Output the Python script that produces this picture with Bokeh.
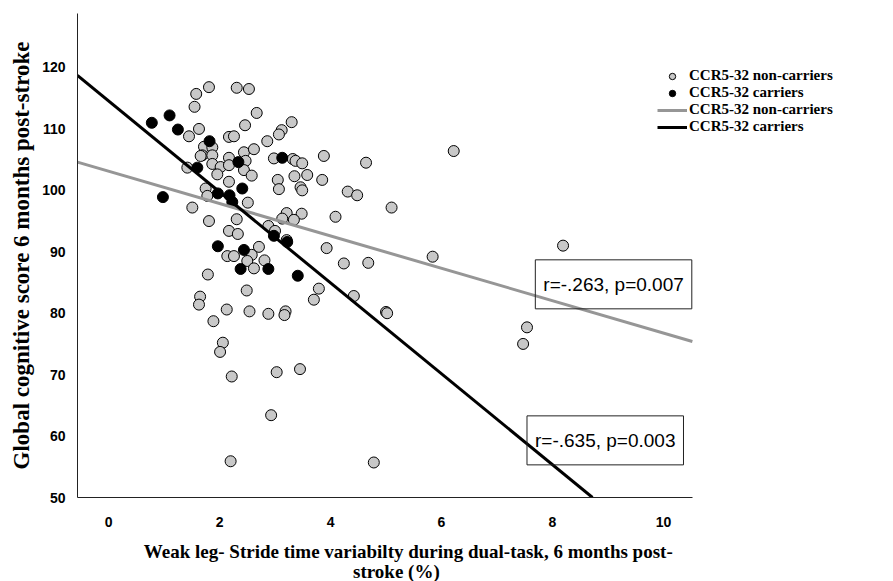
from bokeh.plotting import figure
from bokeh.models import Range1d, FixedTicker, Legend, LegendItem, Label
from bokeh.layouts import column
from bokeh.embed import file_html
from bokeh.resources import INLINE

# CCR5-32 non-carriers (stride time variability %, global cognitive score)
noncarrier_x = [1.81, 2.31, 2.53, 1.58, 1.55, 1.63, 1.45, 2.46, 2.17, 2.26,
                1.72, 1.87, 1.69, 1.66, 1.87, 2.17, 2.44, 1.87, 2.02, 2.17,
                2.47, 2.44, 1.42, 1.96, 2.17, 1.75, 2.67, 3.30, 3.12, 3.07,
                2.86, 2.62, 2.98, 3.32, 3.37, 3.49, 3.88, 2.58, 3.05, 3.35,
                3.58, 3.85, 3.07, 3.46, 3.49, 4.31, 4.48, 2.51, 3.21, 3.48,
                3.13, 3.34, 4.09, 2.88, 3.00, 3.21, 3.93, 4.24, 2.71, 2.58,
                2.50, 2.81, 2.62, 2.49, 3.79, 4.42, 3.70, 4.64, 5.10, 4.68,
                5.84, 5.00, 5.02, 6.22, 8.19, 7.54, 7.47, 1.78, 1.51, 1.81,
                2.31, 2.17, 2.33, 2.14, 2.26, 1.79, 1.65, 1.63, 2.13, 1.89,
                2.54, 2.88, 3.19, 3.17, 2.06, 2.01, 2.22, 3.03, 3.45, 2.93,
                2.20, 4.78]
noncarrier_y = [116.8, 116.7, 116.5, 115.7, 113.6, 110.0, 108.8, 110.6, 108.7, 108.8,
                107.1, 107.0, 105.7, 105.6, 105.7, 105.3, 106.2, 104.3, 103.8, 104.1,
                104.8, 103.3, 103.7, 102.6, 101.4, 100.3, 112.6, 111.1, 109.8, 109.1,
                108.0, 106.7, 105.2, 105.1, 104.8, 104.4, 105.6, 102.4, 101.7, 102.3,
                102.5, 101.7, 100.2, 100.5, 100.0, 99.8, 99.2, 98.0, 96.3, 96.2,
                95.4, 95.2, 95.7, 94.2, 93.4, 91.9, 90.6, 88.1, 90.8, 89.5,
                88.5, 88.6, 87.3, 83.7, 84.0, 82.8, 82.2, 104.5, 97.2, 88.2,
                89.2, 80.2, 80.0, 106.4, 91.0, 77.7, 75.0, 99.1, 97.2, 95.0,
                95.3, 93.4, 92.9, 89.3, 89.3, 86.3, 82.7, 81.4, 80.6, 78.7,
                80.3, 79.9, 80.3, 79.7, 75.2, 73.7, 69.7, 70.4, 70.9, 63.4,
                55.9, 55.7]

# CCR5-32 carriers
carrier_x = [1.10, 0.78, 1.25, 1.82, 2.34, 1.60, 2.41, 3.13, 0.98, 1.97,
             2.18, 2.23, 1.97, 2.44, 2.38, 2.98, 3.22, 2.88, 3.41]
carrier_y = [112.2, 111.0, 109.9, 108.0, 104.6, 103.7, 100.3, 105.3, 98.9, 99.5,
             99.2, 98.1, 90.9, 90.3, 87.2, 92.6, 91.6, 87.2, 86.1]

# Linear fit lines (end points as drawn)
fit_noncarrier_x = [-0.56, 10.52]
fit_noncarrier_y = [104.6, 75.4]
fit_carrier_x = [-0.56, 8.72]
fit_carrier_y = [118.7, 50.0]

x_ticks = [0, 2, 4, 6, 8, 10]
y_ticks = [50, 60, 70, 80, 90, 100, 110, 120]

stat_noncarrier = "r=-.263, p=0.007"
stat_carrier = "r=-.635, p=0.003"
x_title = ["Weak leg- Stride time variabilty during dual-task, 6 months post-", "stroke (%)"]
y_title = "Global cognitive score 6 months post-stroke"
legend_labels = ["CCR5-32 non-carriers", "CCR5-32 carriers", "CCR5-32 non-carriers", "CCR5-32 carriers"]

p = figure(width=893, height=529, output_backend="svg", toolbar_location=None,
           x_range=Range1d(-0.559, 14.144), y_range=Range1d(50, 128.79),
           min_border_left=77, min_border_right=0, min_border_top=13,
           min_border_bottom=32)
p.outline_line_color = None
p.xgrid.visible = False
p.ygrid.visible = False
p.background_fill_color = "white"

r_g = p.scatter(noncarrier_x, noncarrier_y, size=11, marker="circle",
                fill_color="#c8c8c8", line_color="#000000", line_width=1)
r_b = p.scatter(carrier_x, carrier_y, size=11, marker="circle",
                fill_color="#000000", line_color="#000000", line_width=1)
l_g = p.line(fit_noncarrier_x, fit_noncarrier_y, line_color="#969696", line_width=3)
l_b = p.line(fit_carrier_x, fit_carrier_y, line_color="#000000", line_width=3)

for ax in (p.xaxis[0], p.yaxis[0]):
    ax.major_tick_line_color = None
    ax.minor_tick_line_color = None
    ax.axis_line_color = "#222222"
    ax.axis_line_width = 1
    ax.major_label_text_font = "Liberation Sans"
    ax.major_label_text_font_style = "bold"
    ax.major_label_text_font_size = "14px"
    ax.major_label_text_color = "#000000"
    ax.axis_label_text_font = "Liberation Serif"
    ax.axis_label_text_font_style = "bold"
    ax.axis_label_text_color = "#000000"

p.xaxis.ticker = FixedTicker(ticks=x_ticks)
p.yaxis.ticker = FixedTicker(ticks=y_ticks)
p.xaxis.bounds = (fit_noncarrier_x[0], fit_noncarrier_x[1])
p.xaxis.major_label_standoff = 13
p.yaxis.major_label_standoff = 6
p.yaxis.axis_label = y_title
p.yaxis.axis_label_text_font_size = "23px"
p.yaxis.axis_label_standoff = 5

rows = [(r_g, 413), (r_b, 396), (l_g, 379), (l_b, 362)]
for (rend, ly), lab in zip(rows, legend_labels):
    lg = Legend(items=[LegendItem(label=lab, renderers=[rend])], location=(580, ly))
    lg.background_fill_alpha = 0
    lg.border_line_color = None
    lg.padding = 0
    lg.margin = 0
    lg.spacing = 0
    lg.glyph_width = 30
    lg.glyph_height = 16
    lg.label_height = 16
    lg.label_standoff = 2
    lg.label_text_font = "Liberation Serif"
    lg.label_text_font_style = "bold"
    lg.label_text_font_size = "15px"
    lg.label_text_color = "#000000"
    p.add_layout(lg)

for (lx, ly, txt) in [(9.1, 84.7, stat_noncarrier), (8.95, 59.3, stat_carrier)]:
    p.add_layout(Label(x=lx, y=ly, text=txt, text_align="center", text_baseline="middle",
                       text_font="Liberation Sans", text_font_size="19px",
                       text_color="#000000", border_line_color="#222222",
                       border_line_width=1, background_fill_color=None,
                       padding=dict(x=8, y=14)))

# strip below the chart that carries the two-line x-axis title
t = figure(width=893, height=52, output_backend="svg", toolbar_location=None,
           x_range=Range1d(0, 893), y_range=Range1d(0, 52),
           x_axis_type=None, y_axis_type=None,
           min_border_left=0, min_border_right=0, min_border_top=0, min_border_bottom=0)
t.outline_line_color = None
t.xgrid.visible = False
t.ygrid.visible = False
for txt, cx, cy in [(x_title[0], 362, 30), (x_title[1], 349, 10)]:
    t.add_layout(Label(x=cx, y=cy, text=txt, text_align="center", text_baseline="middle",
                       text_font="Liberation Serif", text_font_style="bold",
                       text_font_size="19px", text_color="#000000"))

open("out.html", "w").write(file_html(column(p, t, spacing=0), INLINE))
